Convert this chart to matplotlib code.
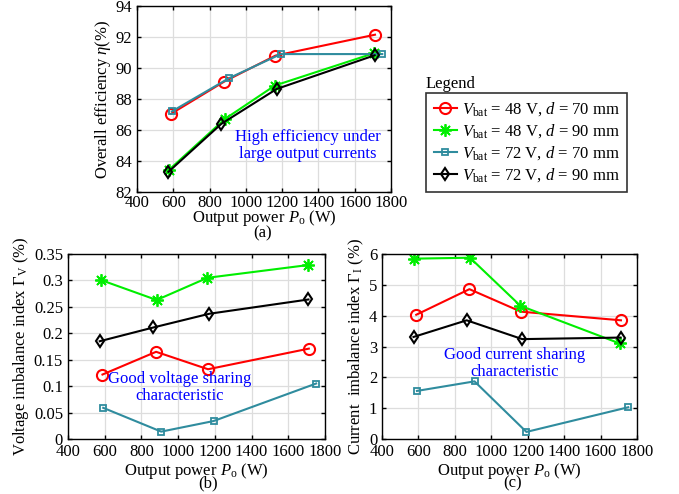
import matplotlib
matplotlib.use("Agg")
import matplotlib.pyplot as plt

plt.rcParams['font.family'] = ['Liberation Serif', 'DejaVu Serif']
plt.rcParams['mathtext.fontset'] = 'custom'
plt.rcParams['mathtext.rm'] = 'Liberation Serif'
plt.rcParams['mathtext.it'] = 'Liberation Serif:italic'
plt.rcParams['font.size'] = 10

# output power of each test point, per series
p_red = [588, 880, 1163, 1712]
p_green = [578, 883, 1160, 1705]
p_blue = [592, 908, 1193, 1752]
p_black = [573, 865, 1170, 1710]

# (a) overall efficiency (%)
eff_red = [87.05, 89.12, 90.8, 92.15]
eff_green = [83.45, 86.7, 88.87, 90.95]
eff_blue = [87.2, 89.35, 90.9, 90.9]
eff_black = [83.3, 86.4, 88.65, 90.82]

# (b) voltage imbalance index (%)
gv_red = [0.122, 0.165, 0.132, 0.171]
gv_green = [0.301, 0.263, 0.305, 0.329]
gv_blue = [0.059, 0.014, 0.034, 0.105]
gv_black = [0.185, 0.211, 0.237, 0.264]

# (c) current imbalance index (%)
gi_red = [4.03, 4.86, 4.13, 3.85]
gi_green = [5.85, 5.88, 4.32, 3.10]
gi_blue = [1.56, 1.87, 0.23, 1.03]
gi_black = [3.31, 3.85, 3.24, 3.29]

labels = [r'$V_\mathrm{bat}$ = 48 V, $d$ = 70 mm',
          r'$V_\mathrm{bat}$ = 48 V, $d$ = 90 mm',
          r'$V_\mathrm{bat}$ = 72 V, $d$ = 70 mm',
          r'$V_\mathrm{bat}$ = 72 V, $d$ = 90 mm']

red = '#FF0000'
green = '#00EE00'
teal = '#2F8C9E'

styles = [
    dict(color=red, marker='o', ms=8, mfc='none', mew=1.5),
    dict(color=green, marker=(8, 2, 0), ms=9, mew=1.3),
    dict(color=teal, marker='s', ms=5, mfc='none', mew=1.3),
    dict(color='black', marker='d', ms=6.5, mfc='none', mew=1.5),
]

fig = plt.figure(figsize=(6.79, 4.94), dpi=100)
ax_a = fig.add_axes([0.2018, 0.6113, 0.374, 0.3765])
ax_b = fig.add_axes([0.1001, 0.1113, 0.3785, 0.3745])
ax_c = fig.add_axes([0.5626, 0.1113, 0.3755, 0.3745])


def style_axes(ax, pad=1):
    ax.grid(True, color='#DDDDDD', lw=0.9)
    ax.set_axisbelow(True)
    ax.tick_params(direction='in', top=True, right=True, labelsize=12,
                   length=3, width=1)
    for s in ax.spines.values():
        s.set_linewidth(1.0)
    ax.set_xlim(400, 1800)
    ax.set_xticks(range(400, 1801, 200))
    ax.set_xlabel(r'Output power $P_\mathrm{o}$ (W)', fontsize=12, labelpad=pad)


xs = [p_red, p_green, p_blue, p_black]

lines = []
for x, y, st, lab in zip(xs, [eff_red, eff_green, eff_blue, eff_black], styles, labels):
    ln, = ax_a.plot(x, y, lw=1.5, label=lab, **st)
    lines.append(ln)
style_axes(ax_a, pad=-2)
ax_a.tick_params(axis='x', pad=2)
ax_a.set_ylim(82, 94)
ax_a.set_yticks(range(82, 95, 2))
ax_a.set_ylabel(r'Overall efficiency $\eta$(%)', fontsize=12, labelpad=2)
ax_a.text(1340, 85.0, 'High efficiency under\nlarge output currents',
          color='blue', fontsize=12, ha='center', va='center', linespacing=1.1)

for x, y, st in zip(xs, [gv_red, gv_green, gv_blue, gv_black], styles):
    ax_b.plot(x, y, lw=1.5, **st)
style_axes(ax_b)
ax_b.set_ylim(0, 0.35)
ax_b.set_yticks([0, 0.05, 0.1, 0.15, 0.2, 0.25, 0.3, 0.35])
ax_b.set_yticklabels(['0', '0.05', '0.1', '0.15', '0.2', '0.25', '0.3', '0.35'])
ax_b.set_ylabel(r'Voltage imbalance index $\Gamma_\mathrm{V}$ (%)', fontsize=12, labelpad=2)
ax_b.text(1010, 0.097, 'Good voltage sharing\ncharacteristic',
          color='blue', fontsize=12, ha='center', va='center', linespacing=1.1)

for x, y, st in zip(xs, [gi_red, gi_green, gi_blue, gi_black], styles):
    ax_c.plot(x, y, lw=1.5, **st)
style_axes(ax_c)
ax_c.set_ylim(0, 6)
ax_c.set_yticks(range(0, 7))
ax_c.set_ylabel(r'Current  imbalance index $\Gamma_\mathrm{I}$ (%)', fontsize=12, labelpad=2)
ax_c.text(1130, 2.45, 'Good current sharing\ncharacteristic',
          color='blue', fontsize=12, ha='center', va='center', linespacing=1.1)

leg = fig.legend(handles=lines, loc='upper left', bbox_to_anchor=(0.6274, 0.8117),
                 borderaxespad=0, frameon=True, fancybox=False, edgecolor='black',
                 fontsize=12, handlelength=1.4, handletextpad=0.3, borderpad=0.45,
                 labelspacing=0.25)
leg.get_frame().set_linewidth(1.2)
fig.text(0.6274, 0.83, 'Legend', fontsize=12, ha='left', va='center')

fig.text(263 / 679, 1 - 233 / 494, '(a)', fontsize=12, ha='center', va='center')
fig.text(208 / 679, 1 - 483 / 494, '(b)', fontsize=12, ha='center', va='center')
fig.text(513 / 679, 1 - 483 / 494, '(c)', fontsize=12, ha='center', va='center')

fig.savefig('out.png', dpi=100)
